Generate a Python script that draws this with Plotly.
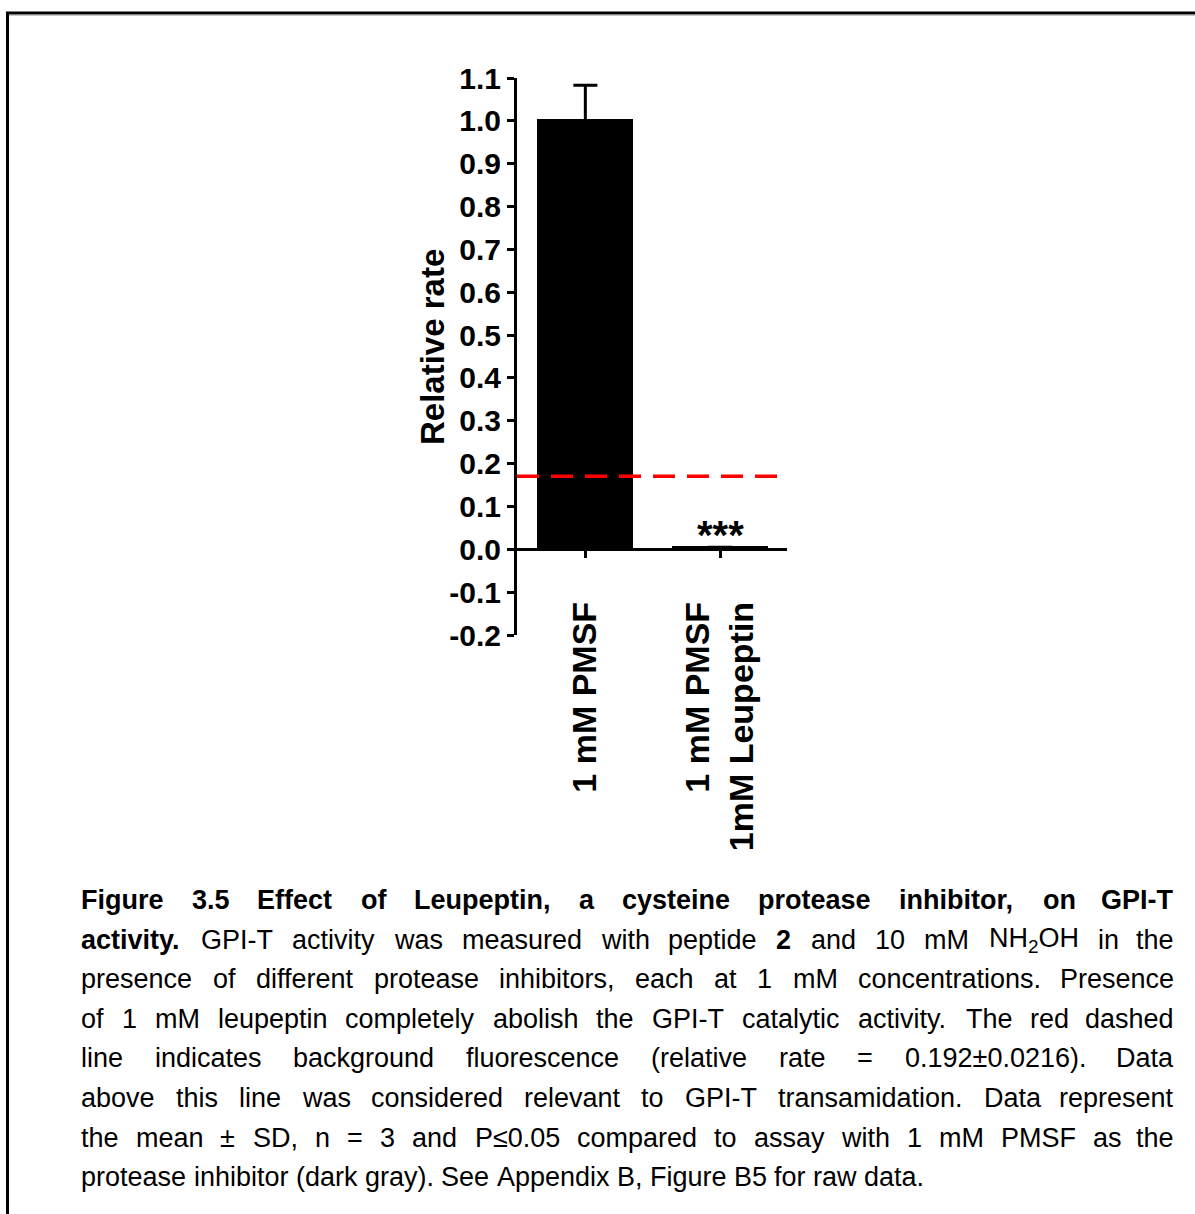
import re
import plotly.graph_objects as go

# ---- data ----
categories = ["1 mM PMSF", "1 mM PMSF<br>1mM Leupeptin"]
rel_rate = [1.0, 0.003]
sd_up = [0.083, 0.002]
sd_down = [0.0, 0.002]
sig_marks = ["", "***"]
y_tick_vals = [-0.2, -0.1, 0.0, 0.1, 0.2, 0.3, 0.4, 0.5, 0.6, 0.7, 0.8, 0.9, 1.0, 1.1]
y_tick_text = ["-0.2", "-0.1", "0.0", "0.1", "0.2", "0.3", "0.4", "0.5",
               "0.6", "0.7", "0.8", "0.9", "1.0", "1.1"]
y_title = "Relative rate"
bg_mean = 0.192
bg_sd = 0.0216

# caption: each line is a list of (text, bold) runs
caption_lines = [
    [("Figure 3.5 Effect of Leupeptin, a cysteine protease inhibitor, on GPI-T", True)],
    [("activity.", True), (" GPI-T activity was measured with peptide ", False), ("2", True),
     (" and 10 mM NH<sub>2</sub>OH in the", False)],
    [("presence of different protease inhibitors, each at 1 mM concentrations. Presence", False)],
    [("of 1 mM leupeptin completely abolish the GPI-T catalytic activity. The red dashed", False)],
    [("line indicates background fluorescence (relative rate = 0.192\u00b10.0216). Data", False)],
    [("above this line was considered relevant to GPI-T transamidation. Data represent", False)],
    [("the mean \u00b1 SD, n = 3 and P\u22640.05 compared to assay with 1 mM PMSF as the", False)],
    [("protease inhibitor (dark gray). See Appendix B, Figure B5 for raw data.", False)],
]

# ---- geometry (pixels) ----
W, H = 1195, 1214
PL, PR, PT, PB = 517, 787, 78, 635      # plot area edges
Y_MIN, Y_MAX = -0.2, 1.1
X_RANGE = [-0.507, 1.496]


def px_x(px):
    return (px - PL) / (PR - PL)


def px_y(py):
    return (PB - py) / (PB - PT)


BOLD_FONT = dict(family="Liberation Sans, Arial, sans-serif", color="black", weight="bold")

fig = go.Figure()
fig.add_trace(go.Bar(
    x=categories, y=rel_rate, width=0.69,
    marker=dict(color="black", line=dict(color="black", width=3)),
    error_y=dict(type="data", symmetric=False, array=sd_up, arrayminus=sd_down,
                 color="black", thickness=3, width=12),
    showlegend=False, hoverinfo="skip",
))

# background fluorescence threshold
fig.add_shape(type="line", xref="x", yref="y", x0=X_RANGE[0], x1=1.444,
              y0=bg_mean - bg_sd, y1=bg_mean - bg_sd,
              line=dict(color="#ff0000", width=3.5, dash="22px,12px"))

# significance marks
for cat, val, mark in zip(categories, rel_rate, sig_marks):
    if mark:
        fig.add_annotation(x=cat, y=max(val, 0) + 0.03, text=mark, showarrow=False,
                           xanchor="center", yanchor="middle",
                           font=dict(BOLD_FONT, size=40))

# y-axis title
fig.add_annotation(xref="paper", yref="paper", x=px_x(432), y=px_y(347),
                   text=y_title, textangle=-90, showarrow=False,
                   xanchor="center", yanchor="middle", font=dict(BOLD_FONT, size=33))

# page frame
frame = dict(color="black", width=3)
fig.add_shape(type="line", xref="paper", yref="paper", x0=px_x(6), x1=px_x(W + 5),
              y0=px_y(13), y1=px_y(13), line=frame)
fig.add_shape(type="line", xref="paper", yref="paper", x0=px_x(7.5), x1=px_x(7.5),
              y0=px_y(12), y1=px_y(H + 5), line=frame)
fig.add_shape(type="line", xref="paper", yref="paper", x0=px_x(9), x1=px_x(W + 5),
              y0=px_y(15.5), y1=px_y(15.5), line=dict(color="#c8c8c8", width=1))

# ---- caption, justified ----
REG = dict(zip("abcdefghijklmnopqrstuvwxyz",
               [556, 556, 500, 556, 556, 278, 556, 556, 222, 222, 500, 222, 833,
                556, 556, 556, 556, 333, 500, 278, 556, 500, 722, 500, 500, 500]))
REG.update(dict(zip("ABCDEFGHIJKLMNOPQRSTUVWXYZ",
                    [667, 667, 722, 722, 667, 611, 778, 722, 278, 500, 667, 556, 833,
                     722, 778, 667, 778, 722, 667, 611, 722, 667, 944, 667, 667, 611])))
REG.update({c: 556 for c in "0123456789"})
REG.update({" ": 278, ".": 278, ",": 278, "-": 333, "(": 333, ")": 333, "=": 584,
            "\u00b1": 584, "\u2264": 549, ":": 278})
BLD = dict(zip("abcdefghijklmnopqrstuvwxyz",
               [556, 611, 556, 611, 556, 333, 611, 611, 278, 278, 556, 278, 889,
                611, 611, 611, 611, 389, 556, 333, 611, 556, 778, 556, 556, 500]))
BLD.update(dict(zip("ABCDEFGHIJKLMNOPQRSTUVWXYZ",
                    [722, 722, 722, 722, 667, 611, 778, 722, 278, 556, 722, 611, 833,
                     722, 778, 667, 778, 722, 667, 611, 722, 667, 944, 667, 667, 611])))
BLD.update({c: 556 for c in "0123456789"})
BLD.update({" ": 278, ".": 278, ",": 278, "-": 333, "(": 333, ")": 333, ":": 333})

CAP_FONT = "Liberation Sans, Arial, sans-serif"
CAP_SIZE = 27
CAP_L, CAP_R = 80, 1175
CAP_Y0, CAP_STEP = 900, 39.6


def word_width(word, bold):
    table = BLD if bold else REG
    total = 0.0
    for part in re.split(r"(<sub>.*?</sub>)", word):
        if part.startswith("<sub>"):
            total += 0.7 * sum(table.get(c, 556) for c in part[5:-6])
        else:
            total += sum(table.get(c, 556) for c in part)
    return total / 1000 * CAP_SIZE


for j, runs in enumerate(caption_lines):
    words = []
    for text, bold in runs:
        for w in text.split(" "):
            if w:
                words.append((w, bold))
    widths = [word_width(w, b) for w, b in words]
    justified = j < len(caption_lines) - 1
    if justified:
        gap = (CAP_R - CAP_L - sum(widths)) / (len(words) - 1)
    else:
        gap = 278 / 1000 * CAP_SIZE
    yc = CAP_Y0 + j * CAP_STEP
    x = CAP_L
    for k, ((w, b), wd) in enumerate(zip(words, widths)):
        last = justified and k == len(words) - 1
        fig.add_annotation(
            xref="paper", yref="paper",
            x=px_x(CAP_R if last else x), y=px_y(yc),
            xanchor="right" if last else "left", yanchor="middle",
            text=f"<b>{w}</b>" if b else w, showarrow=False, borderpad=0,
            font=dict(family=CAP_FONT, size=CAP_SIZE, color="black"),
        )
        x += wd + gap

fig.update_layout(
    width=W, height=H, autosize=False,
    margin=dict(l=PL, r=W - PR, t=PT, b=H - PB, pad=0),
    paper_bgcolor="white", plot_bgcolor="white",
    bargap=0, showlegend=False,
    xaxis=dict(
        type="category", range=X_RANGE, anchor="free",
        position=(0 - Y_MIN) / (Y_MAX - Y_MIN),
        showline=True, linecolor="black", linewidth=3,
        ticks="outside", ticklen=7, tickwidth=3, tickcolor="black",
        tickangle=-90, ticklabelstandoff=30,
        tickfont=dict(BOLD_FONT, size=34),
        showgrid=False, zeroline=False,
    ),
    yaxis=dict(
        range=[Y_MIN, Y_MAX], tickvals=y_tick_vals, ticktext=y_tick_text,
        showline=True, linecolor="black", linewidth=3,
        ticks="outside", ticklen=7, tickwidth=3, tickcolor="black",
        tickfont=dict(BOLD_FONT, size=30),
        showgrid=False, zeroline=False,
    ),
)

fig.write_html("out.html")
